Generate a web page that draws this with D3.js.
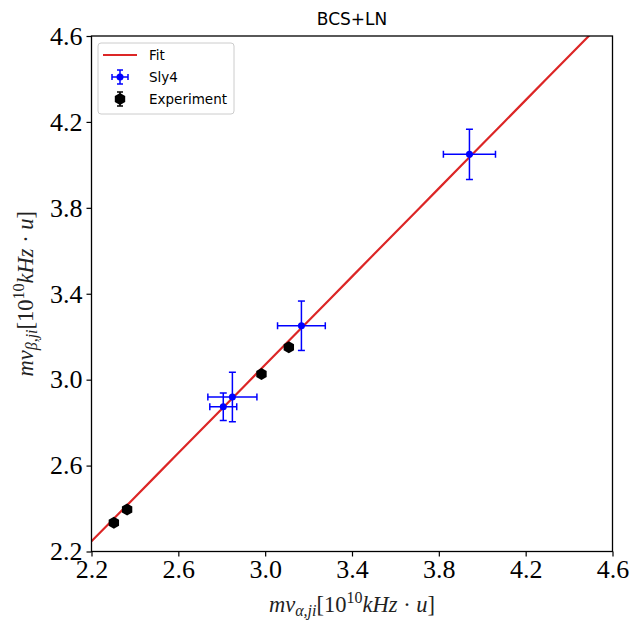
<!DOCTYPE html>
<html>
<head>
<meta charset="utf-8">
<script src="https://cdn.jsdelivr.net/npm/d3@7"></script>
<style>
  body { margin: 0; background: #fff; }
  svg { display: block; }
</style>
</head>
<body>
<svg id="chart" width="631" height="628"></svg>
<script>
// Sly4 model points (x, y, xerr, yerr)
let slyX    = [3.941, 3.167, 2.849, 2.807];
let slyY    = [4.049, 3.251, 2.919, 2.874];
let slyXErr = [0.120, 0.110, 0.113, 0.062];
let slyYErr = [0.117, 0.115, 0.115, 0.064];

// Experiment points
let expX    = [2.303, 2.364, 2.983, 3.109];
let expY    = [2.334, 2.395, 3.026, 3.151];
let expYErr = [0.004, 0.004, 0.004, 0.004];

// linear fit y = slope * x + intercept
let fitSlope = 1.027;
let fitIntercept = -0.012;

let ticks = [2.2, 2.6, 3.0, 3.4, 3.8, 4.2, 4.6];

let mLeft = 91.5, mRight = 612.5, mTop = 36, mBottom = 551.5;

let svg = d3.select("#chart");

let x = d3.scaleLinear().domain([2.2, 4.6]).range([mLeft, mRight]);
let y = d3.scaleLinear().domain([2.2, 4.6]).range([mBottom, mTop]);

svg.append("defs").append("clipPath").attr("id", "clip")
    .append("rect")
    .attr("x", mLeft).attr("y", mTop)
    .attr("width", mRight - mLeft).attr("height", mBottom - mTop);

let plot = svg.append("g").attr("clip-path", "url(#clip)");

// fit line
let fitX = d3.range(2.2, 4.6001, 0.1);
plot.append("path")
    .datum(fitX)
    .attr("fill", "none")
    .attr("stroke", "#dc2626")
    .attr("stroke-width", 2.2)
    .attr("d", d3.line().x(d => x(d)).y(d => y(fitSlope * d + fitIntercept)));

// hexagon (pointy top), r in px
function hexPath(r) {
  let pts = d3.range(6).map(i => {
    let a = Math.PI / 2 + i * Math.PI / 3;
    return [r * Math.cos(a), -r * Math.sin(a)];
  });
  return "M" + pts.map(p => p.join(",")).join("L") + "Z";
}

function errorBar(g, cx, cy, dx, dy, color, cap) {
  if (dx > 0) {
    g.append("line").attr("x1", cx - dx).attr("x2", cx + dx).attr("y1", cy).attr("y2", cy)
      .attr("stroke", color).attr("stroke-width", 1.5);
    [cx - dx, cx + dx].forEach(px => g.append("line")
      .attr("x1", px).attr("x2", px).attr("y1", cy - cap).attr("y2", cy + cap)
      .attr("stroke", color).attr("stroke-width", 1.5));
  }
  if (dy > 0) {
    g.append("line").attr("x1", cx).attr("x2", cx).attr("y1", cy - dy).attr("y2", cy + dy)
      .attr("stroke", color).attr("stroke-width", 1.5);
    [cy - dy, cy + dy].forEach(py => g.append("line")
      .attr("x1", cx - cap).attr("x2", cx + cap).attr("y1", py).attr("y2", py)
      .attr("stroke", color).attr("stroke-width", 1.5));
  }
}

// Sly4 points
slyX.forEach((v, i) => {
  let cx = x(v), cy = y(slyY[i]);
  let dx = x(v + slyXErr[i]) - cx;
  let dy = cy - y(slyY[i] + slyYErr[i]);
  let g = plot.append("g");
  errorBar(g, cx, cy, dx, dy, "#0000ff", 3.5);
  g.append("circle").attr("cx", cx).attr("cy", cy).attr("r", 3.5).attr("fill", "#0000ff");
});

// Experiment points
expX.forEach((v, i) => {
  let cx = x(v), cy = y(expY[i]);
  let dy = cy - y(expY[i] + expYErr[i]);
  let g = plot.append("g");
  errorBar(g, cx, cy, 0, dy, "#000", 3.5);
  g.append("path").attr("d", hexPath(6)).attr("transform", `translate(${cx},${cy})`).attr("fill", "#000");
});

// frame
svg.append("rect")
    .attr("x", mLeft).attr("y", mTop)
    .attr("width", mRight - mLeft).attr("height", mBottom - mTop)
    .attr("fill", "none").attr("stroke", "#000").attr("stroke-width", 1.3);

// axes
let xAxis = svg.append("g").attr("transform", `translate(0,${mBottom})`)
    .call(d3.axisBottom(x).tickValues(ticks).tickFormat(d3.format(".1f")).tickSize(5).tickPadding(3));
let yAxis = svg.append("g").attr("transform", `translate(${mLeft},0)`)
    .call(d3.axisLeft(y).tickValues(ticks).tickFormat(d3.format(".1f")).tickSize(5).tickPadding(4));
[xAxis, yAxis].forEach(a => {
  a.select(".domain").remove();
  a.selectAll(".tick line").attr("stroke-width", 1.2);
  a.selectAll(".tick text")
    .attr("font-family", "'Liberation Serif', serif")
    .attr("font-size", 26)
    .attr("fill", "#000");
});

// title
svg.append("text")
    .attr("x", (mLeft + mRight) / 2).attr("y", 25)
    .attr("text-anchor", "middle")
    .attr("font-family", "'DejaVu Sans', sans-serif")
    .attr("font-size", 17)
    .text("BCS+LN");

// axis labels (math style)
function mathLabel(t, sub) {
  t.attr("font-family", "'Liberation Serif', serif").attr("font-size", 22.5).attr("fill", "#222");
  t.append("tspan").attr("font-style", "italic").text("mν");
  t.append("tspan").attr("font-style", "italic").attr("font-size", 16).attr("dy", 4).text(sub);
  t.append("tspan").attr("dy", -4).text("[10");
  t.append("tspan").attr("font-size", 16).attr("dy", -9).text("10");
  t.append("tspan").attr("font-style", "italic").attr("dy", 9).text("kHz");
  t.append("tspan").text(" · ");
  t.append("tspan").attr("font-style", "italic").text("u");
  t.append("tspan").text("]");
}

mathLabel(svg.append("text")
    .attr("x", (mLeft + mRight) / 2).attr("y", 612)
    .attr("text-anchor", "middle"), "α,ji");

mathLabel(svg.append("text")
    .attr("transform", `translate(33,${(mTop + mBottom) / 2}) rotate(-90)`)
    .attr("text-anchor", "middle"), "β,ji");

// legend
let legend = svg.append("g").attr("transform", "translate(98,43)");
legend.append("rect")
    .attr("width", 136).attr("height", 71).attr("rx", 3)
    .attr("fill", "#fff").attr("fill-opacity", 0.8)
    .attr("stroke", "#cccccc").attr("stroke-width", 1);

let legendItems = ["Fit", "Sly4", "Experiment"];
legendItems.forEach((name, i) => {
  let ly = 12 + i * 22;
  let g = legend.append("g");
  if (i === 0) {
    g.append("line").attr("x1", 5).attr("x2", 39).attr("y1", ly).attr("y2", ly)
      .attr("stroke", "#dc2626").attr("stroke-width", 2.2);
  } else if (i === 1) {
    errorBar(g, 22, ly, 8, 7, "#0000ff", 3);
    g.append("circle").attr("cx", 22).attr("cy", ly).attr("r", 3.5).attr("fill", "#0000ff");
  } else {
    errorBar(g, 22, ly, 0, 7, "#000", 3);
    g.append("path").attr("d", hexPath(6)).attr("transform", `translate(22,${ly})`).attr("fill", "#000");
  }
  g.append("text")
    .attr("x", 51).attr("y", ly + 5)
    .attr("font-family", "'DejaVu Sans', sans-serif")
    .attr("font-size", 13.5)
    .text(name);
});
</script>
</body>
</html>
